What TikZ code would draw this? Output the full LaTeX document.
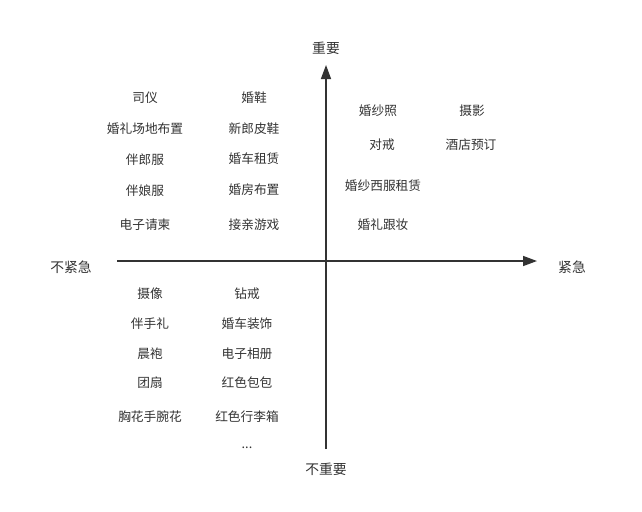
\documentclass[tikz,border=0pt]{standalone}
\usepackage{fontspec}
\setmainfont{Noto Sans CJK SC}
\usetikzlibrary{arrows.meta}
\definecolor{axisc}{HTML}{333333}
\definecolor{txtc}{HTML}{333333}
\begin{document}
\begin{tikzpicture}[x=1pt,y=-1pt,
  item/.style={font=\fontsize{12.7}{14}\selectfont, text=txtc, inner sep=0pt, anchor=center},
  axlabel/.style={font=\fontsize{13.8}{16}\selectfont, text=txtc, inner sep=0pt, anchor=center},
  axisline/.style={draw=axisc, line width=1.5pt, -{Triangle[length=14pt,width=10pt]}}]
\useasboundingbox[fill=white] (0,0) rectangle (642,511);
% axes
\coordinate (xl) at (117,261);
\coordinate (xr) at (537,261);
\coordinate (yb) at (326,449);
\coordinate (yt) at (326,65);
\draw[axisline] (xl) -- (xr);
\draw[axisline] (yb) -- (yt);
% axis labels
\node[axlabel] (imp) at (326,48) {重要};
\node[axlabel] (nimp) at (326,469) {不重要};
\node[axlabel] (nurg) at (71,267) {不紧急};
\node[axlabel] (urg) at (572,267) {紧急};
% top-left
\node[item] (a1) at (145,98) {司仪};
\node[item] (a2) at (145,129) {婚礼场地布置};
\node[item] (a3) at (145,160) {伴郎服};
\node[item] (a4) at (145,191) {伴娘服};
\node[item] (a5) at (145,225) {电子请柬};
\node[item] (b1) at (254,98) {婚鞋};
\node[item] (b2) at (254,129) {新郎皮鞋};
\node[item] (b3) at (254,159) {婚车租赁};
\node[item] (b4) at (254,190) {婚房布置};
\node[item] (b5) at (254,225) {接亲游戏};
% top-right
\node[item] (c1) at (378,111) {婚纱照};
\node[item] (c2) at (472,111) {摄影};
\node[item] (c3) at (382,145) {对戒};
\node[item] (c4) at (471,145) {酒店预订};
\node[item] (c5) at (383,186) {婚纱西服租赁};
\node[item] (c6) at (383,225) {婚礼跟妆};
% bottom-left
\node[item] (d1) at (150,294) {摄像};
\node[item] (d2) at (150,324) {伴手礼};
\node[item] (d3) at (150,354) {晨袍};
\node[item] (d4) at (150,383) {团扇};
\node[item] (d5) at (150,417) {胸花手腕花};
\node[item] (e1) at (247,294) {钻戒};
\node[item] (e2) at (247,324) {婚车装饰};
\node[item] (e3) at (247,354) {电子相册};
\node[item] (e4) at (247,383) {红色包包};
\node[item] (e5) at (247,417) {红色行李箱};
\node[item] (e6) at (247,448) {...};
\end{tikzpicture}
\end{document}
